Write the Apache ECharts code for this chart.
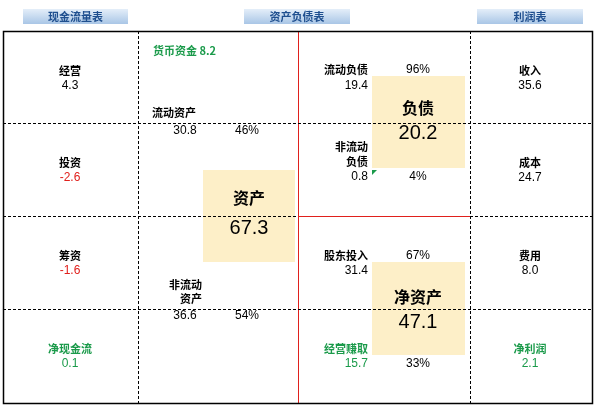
<!DOCTYPE html><html><head><meta charset="utf-8"><script src="https://cdn.jsdelivr.net/npm/echarts@6/dist/echarts.min.js"></script>
<style>html,body{margin:0;padding:0;background:#fff}#c{width:600px;height:408px}</style></head><body><div id="c"></div>
<script>
const headers=['现金流量表','资产负债表','利润表'];
const cashLabels=['经营','投资','筹资','净现金流'];
const cashValues=['4.3','-2.6','-1.6','0.1'];
const incomeLabels=['收入','成本','费用','净利润'];
const incomeValues=['35.6','24.7','8.0','2.1'];
const monetaryFunds='8.2';
const currentAssets=['30.8','46%'];
const nonCurrentAssets=['36.6','54%'];
const totalAssets='67.3';
const currentLiab=['19.4','96%'];
const nonCurrentLiab=['0.8','4%'];
const totalLiab='20.2';
const equityIn=['31.4','67%'];
const earned=['15.7','33%'];
const netAssets='47.1';

const F='"Noto Sans CJK SC","DejaVu Sans",sans-serif';
const N='"Liberation Sans",Arial,sans-serif';
const G='#1a9a4a',R='#e0201c',K='#000';
const els=[];
function t(x,y,s,o){o=o||{};els.push({type:'text',x:x,y:y,z:10,style:{text:s,fill:o.c||K,font:(o.b?'bold ':'')+(o.s||11)+'px '+(o.n?N:F),textAlign:o.a||'center',textVerticalAlign:'middle'}});}
function v(x,y,s,o){o=o||{};o.n=true;o.s=o.s||12;t(x,y,s,o);}
function line(x1,y1,x2,y2,c,d){els.push({type:'line',z:5,shape:{x1,y1,x2,y2},style:{stroke:c,lineWidth:1,lineDash:d?[3,2]:null}});}
function rect(x,y,w,h,fill,z){els.push({type:'rect',z:z||1,shape:{x,y,width:w,height:h},style:{fill:fill}});}
const hx=[[23,128],[244,350],[477,583]];
hx.forEach((h,i)=>{els.push({type:'rect',z:1,shape:{x:h[0],y:9,width:h[1]-h[0],height:15},style:{fill:new echarts.graphic.LinearGradient(0,0,0,1,[{offset:0,color:'#e4eef9'},{offset:1,color:'#a9c6e6'}])}});t((h[0]+h[1])/2,16.5,headers[i],{c:'#1f4f8f',b:true});});
rect(203,170,92,92,'#fdefc8');rect(372,76,93,92,'#fdefc8');rect(372,262,93,93,'#fdefc8');
els.push({type:'rect',z:6,shape:{x:3.5,y:31.5,width:589,height:372},style:{fill:null,stroke:K,lineWidth:1.5}});
line(138.5,31,138.5,403,K,true);line(470.5,31,470.5,403,K,true);
line(298.5,31,298.5,403,R,false);line(138,31.5,470,31.5,R,false);
[123.5,309.5].forEach(y=>line(3,y,592,y,K,true));
line(3,216.5,298,216.5,K,true);line(298,216.5,470,216.5,R,false);line(470,216.5,592,216.5,K,true);
const rowY=[71,163,256,349];
rowY.forEach((y,i)=>{
 const cc=i===3?G:K;
 t(70,y,cashLabels[i],{c:cc,b:true});
 v(70,y+15,cashValues[i],{c:i===3?G:(parseFloat(cashValues[i])<0?R:K)});
 t(530,y,incomeLabels[i],{c:cc,b:true});
 v(530,y+15,incomeValues[i],{c:i===3?G:K});
});
t(153,51,'货币资金 '+monetaryFunds,{c:G,b:true,a:'left'});
t(152,113,'流动资产',{b:true,a:'left'});
v(185,131,currentAssets[0]);v(247,131,currentAssets[1]);
t(202,285,'非流动',{b:true,a:'right'});t(202,299,'资产',{b:true,a:'right'});
v(185,316,nonCurrentAssets[0]);v(247,316,nonCurrentAssets[1]);
t(249,198,'资产',{b:true,s:16});v(249,228,totalAssets,{s:20});
t(368,70,'流动负债',{b:true,a:'right'});v(368,86,currentLiab[0],{a:'right'});v(418,70,currentLiab[1]);
t(418,108,'负债',{b:true,s:16});v(418,133,totalLiab,{s:20});
t(368,147,'非流动',{b:true,a:'right'});t(368,162,'负债',{b:true,a:'right'});
v(368,177,nonCurrentLiab[0],{a:'right'});v(418,177,nonCurrentLiab[1]);
els.push({type:'polygon',z:7,shape:{points:[[372,170],[377,170],[372,175]]},style:{fill:'#1a9a4a'}});
t(368,256,'股东投入',{b:true,a:'right'});v(368,271,equityIn[0],{a:'right'});v(418,256,equityIn[1]);
t(418,297,'净资产',{b:true,s:16});v(418,322,netAssets,{s:20});
t(368,349,'经营赚取',{c:G,b:true,a:'right'});v(368,364,earned[0],{c:G,a:'right'});v(418,364,earned[1]);
const ch=echarts.init(document.getElementById('c'),null,{renderer:'canvas'});
ch.setOption({animation:false,graphic:els});
</script></body></html>
